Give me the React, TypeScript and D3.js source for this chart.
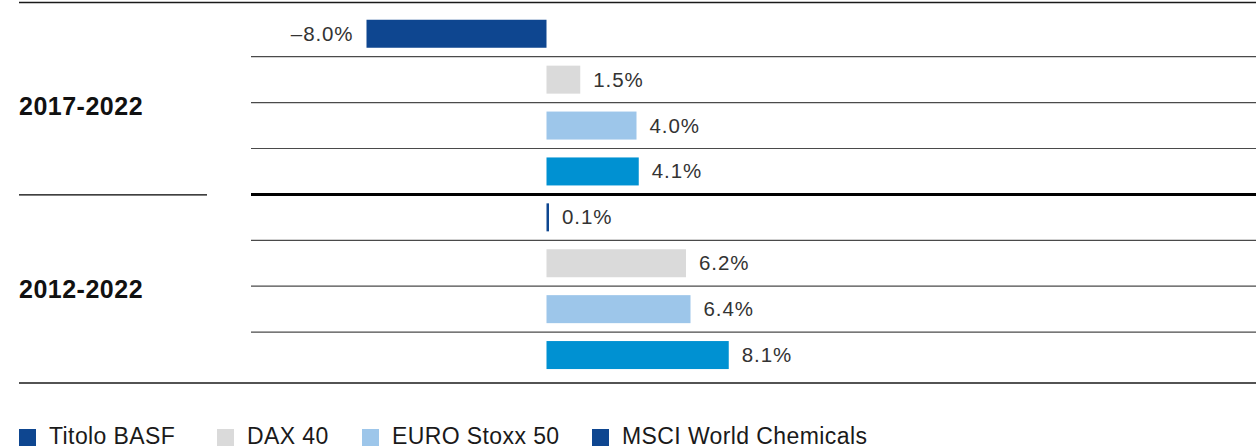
import { useEffect, useRef } from 'react';
import * as d3 from 'd3';

// data
const periods = ['2017-2022', '2012-2022'];
const seriesNames = ['Titolo BASF', 'DAX 40', 'EURO Stoxx 50', 'MSCI World Chemicals'];
const values2017 = [-8.0, 1.5, 4.0, 4.1];
const values2012 = [0.1, 6.2, 6.4, 8.1];
const barColors = ['#0e4690', '#dadada', '#9dc6ea', '#0091d2'];
const legendColors = ['#0e4690', '#dadada', '#9dc6ea', '#0e4690'];

const W = 1256;
const H = 446;
const font = '"Liberation Sans", Arial, Helvetica, sans-serif';

const App = () => {
    const svgRef = useRef<SVGSVGElement>(null);

    useEffect(() => {
        const svg = d3.select(svgRef.current);
        svg.selectAll('*').remove();

        const rows = [
            ...values2017.map((v, i) => ({ key: `a${i}`, period: 0, series: i, value: v })),
            ...values2012.map((v, i) => ({ key: `b${i}`, period: 1, series: i, value: v })),
        ];

        const lineLeft = 19;
        const gridLeft = 251;
        const topY = 2.5;
        const bottomY = 383;
        const barH = 28;

        const y = d3
            .scaleBand<string>()
            .domain(rows.map((d) => d.key))
            .range([10.8, 10.8 + 8 * 45.9])
            .padding(0);

        const x = d3.scaleLinear().domain([-8, 8.1]).range([366.5, 728.75]);

        // top and bottom rules
        svg.append('line')
            .attr('x1', lineLeft).attr('x2', W)
            .attr('y1', topY).attr('y2', topY)
            .attr('stroke', '#1a1a1a').attr('stroke-width', 1.3);
        svg.append('line')
            .attr('x1', lineLeft).attr('x2', W)
            .attr('y1', bottomY).attr('y2', bottomY)
            .attr('stroke', '#1a1a1a').attr('stroke-width', 1.3);

        // row separators
        rows.slice(1).forEach((d) => {
            const yy = y(d.key)!;
            const isGroupBreak = d.series === 0;
            svg.append('line')
                .attr('x1', gridLeft).attr('x2', W)
                .attr('y1', yy).attr('y2', yy)
                .attr('stroke', isGroupBreak ? '#000' : '#4a4a4a')
                .attr('stroke-width', isGroupBreak ? 3 : 1.2);
            if (isGroupBreak) {
                svg.append('line')
                    .attr('x1', lineLeft).attr('x2', 207)
                    .attr('y1', yy + 0.5).attr('y2', yy + 0.5)
                    .attr('stroke', '#000').attr('stroke-width', 1.4);
            }
        });

        // bars
        svg.selectAll('.bar')
            .data(rows)
            .enter()
            .append('rect')
            .attr('class', 'bar')
            .attr('x', (d) => Math.min(x(0), x(d.value)))
            .attr('width', (d) => Math.max(2.5, Math.abs(x(d.value) - x(0))))
            .attr('y', (d) => y(d.key)! + (y.bandwidth() - barH) / 2)
            .attr('height', barH)
            .attr('fill', (d) => barColors[d.series]);

        // value labels
        const fmt = (v: number) => (v < 0 ? '\u2013' : '') + Math.abs(v).toFixed(1) + '%';
        svg.selectAll('.val')
            .data(rows)
            .enter()
            .append('text')
            .attr('class', 'val')
            .attr('x', (d) => (d.value < 0 ? x(d.value) - 13 : Math.max(x(d.value), x(0) + 2.5) + 13))
            .attr('y', (d) => y(d.key)! + y.bandwidth() / 2 + 7)
            .attr('text-anchor', (d) => (d.value < 0 ? 'end' : 'start'))
            .attr('font-family', font)
            .attr('font-size', 20.5)
            .attr('letter-spacing', 0.9)
            .attr('fill', '#333')
            .text((d) => fmt(d.value));

        // period labels
        periods.forEach((p, i) => {
            const first = rows.find((r) => r.period === i)!;
            const mid = y(first.key)! + (y.bandwidth() * 4) / 2;
            svg.append('text')
                .attr('x', lineLeft)
                .attr('y', mid + 12)
                .attr('font-family', font)
                .attr('font-size', 25)
                .attr('letter-spacing', 0.5)
                .attr('font-weight', 'bold')
                .attr('fill', '#111')
                .text(p);
        });

        // legend
        const legendX = [19, 217, 362, 592];
        seriesNames.forEach((name, i) => {
            const g = svg.append('g').attr('transform', `translate(${legendX[i]},0)`);
            g.append('rect')
                .attr('x', 0).attr('y', 429)
                .attr('width', 17).attr('height', 17)
                .attr('fill', legendColors[i]);
            g.append('text')
                .attr('x', 30).attr('y', 443.5)
                .attr('font-family', font)
                .attr('font-size', 23)
                .attr('letter-spacing', 0.4)
                .attr('fill', '#1a1a1a')
                .text(name);
        });
    }, []);

    return (
        <div style={{ position: 'absolute', left: 0, top: 0 }}>
            <svg ref={svgRef} width={W} height={H} style={{ display: 'block', background: '#fff' }}></svg>
        </div>
    );
};

export default App;
